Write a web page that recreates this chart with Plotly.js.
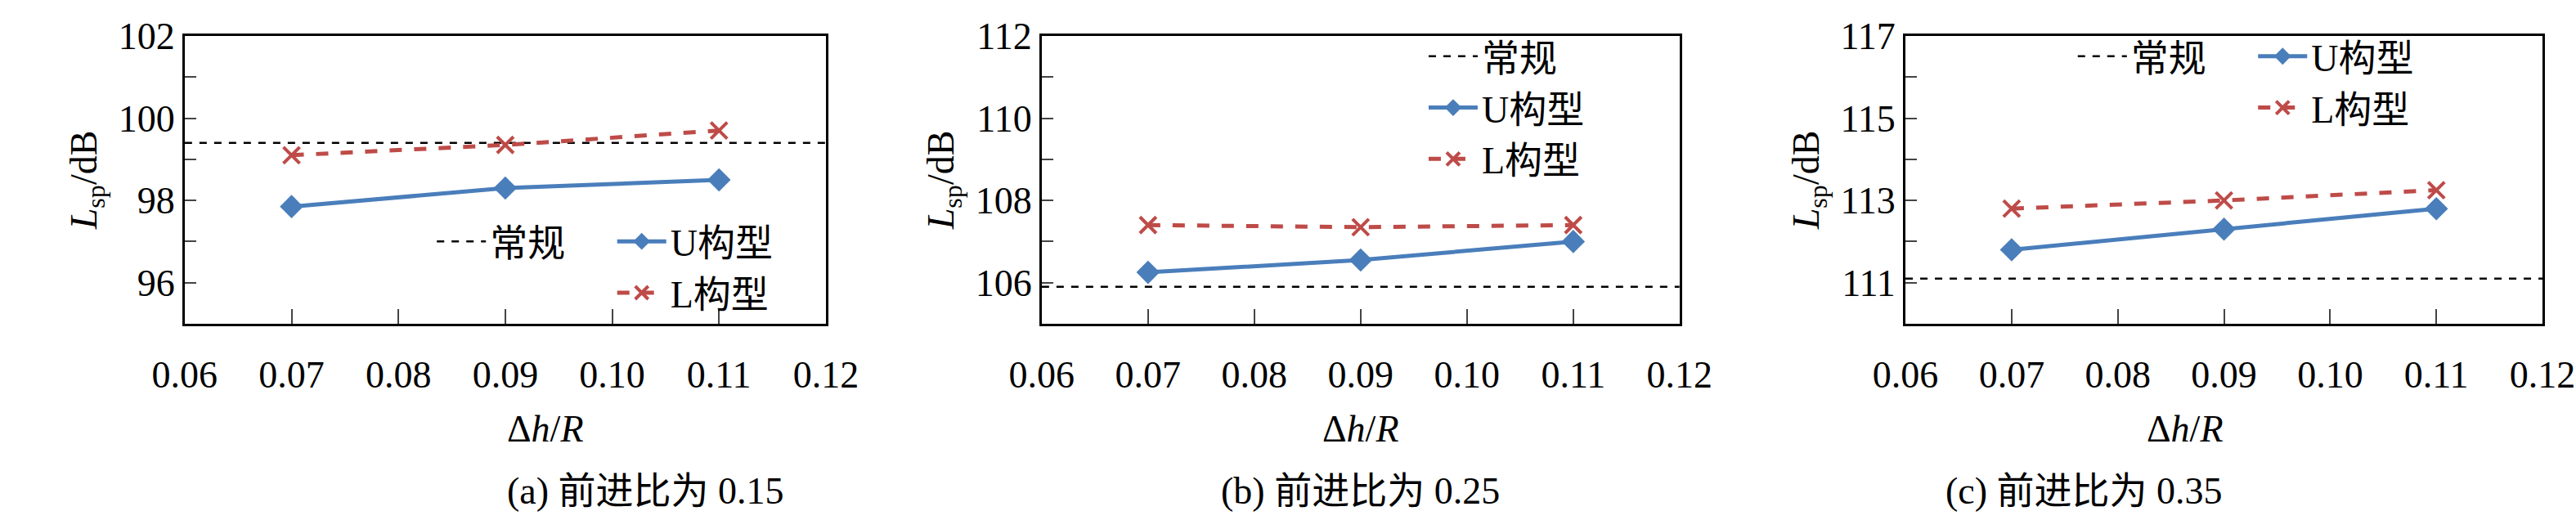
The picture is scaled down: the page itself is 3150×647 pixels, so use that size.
<!DOCTYPE html>
<html><head><meta charset="utf-8">
<script src="https://cdn.plot.ly/plotly-3.0.1.min.js"></script>
<style>body{margin:0}</style></head>
<body><div id="chart" style="width:3150px;height:647px"></div>
<script>
const xVals = [0.07, 0.09, 0.11];
const xTicks = [0.06, 0.07, 0.08, 0.09, 0.10, 0.11, 0.12];
const uA = [97.85, 98.3, 98.5];
const lA = [99.1, 99.35, 99.7];
const convA = 99.4;
const uB = [106.25, 106.55, 107.0];
const lB = [107.4, 107.35, 107.4];
const convB = 105.9;
const uC = [111.8, 112.3, 112.8];
const lC = [112.8, 113.0, 113.25];
const convC = 111.1;
const captions = ['(a) 前进比为 0.15', '(b) 前进比为 0.25', '(c) 前进比为 0.35'];

const blue = '#4a7ebb', red = '#be4b48';
const font = {family: '"Liberation Serif", "Noto Sans CJK SC", serif', size: 46, color: '#000'};

function traces(ax, u, l, conv, legConv, legUL) {
  const xa = 'x' + ax, ya = 'y' + ax;
  return [
    {x: [0.06, 0.12], y: [conv, conv], xaxis: xa, yaxis: ya, mode: 'lines', name: '常规',
     line: {color: '#000', width: 2.5, dash: 'dash'}, legend: legConv, showlegend: true},
    {x: xVals, y: u, xaxis: xa, yaxis: ya, mode: 'lines+markers', name: 'U构型',
     line: {color: blue, width: 5}, marker: {symbol: 'diamond', size: 22, color: blue}, legend: legUL},
    {x: xVals, y: l, xaxis: xa, yaxis: ya, mode: 'lines+markers', name: 'L构型',
     line: {color: red, width: 5, dash: 'dash'},
     marker: {symbol: 'x-thin-open', size: 20, color: red, line: {color: red, width: 4}}, legend: legUL}
  ];
}

const data = [
  ...traces('', uA, lA, convA, 'legend', 'legend2'),
  ...traces('2', uB, lB, convB, 'legend3', 'legend3'),
  ...traces('3', uC, lC, convC, 'legend4', 'legend5')
];

function xaxis(dom, anchor) {
  return {domain: dom, anchor: anchor, range: [0.06, 0.12], tickvals: xTicks,
    ticktext: xTicks.map(v => v.toFixed(2)), ticks: 'inside', ticklen: 18, tickwidth: 2,
    showline: true, mirror: true, linecolor: '#000', linewidth: 3, showgrid: false,
    zeroline: false, tickfont: font, ticklabelstandoff: 20};
}
function yaxis(anchor, range, tick0) {
  return {domain: [0.388, 0.932], anchor: anchor, range: range, tick0: tick0, dtick: 2,
    ticks: 'inside', ticklen: 14, tickwidth: 2,
    minor: {dtick: 1, ticks: 'inside', ticklen: 14, tickwidth: 2},
    showline: true, mirror: true, linecolor: '#000', linewidth: 3, showgrid: false,
    zeroline: false, tickfont: font,
    title: {text: '<i>L</i><sub>sp</sub>/dB', font: font, standoff: 12}};
}
const doms = [[0.0717, 0.3206], [0.4044, 0.652], [0.7397, 0.987]];
const leg = (x, y) => ({x: x, y: y, xanchor: 'left', yanchor: 'top', bgcolor: 'rgba(0,0,0,0)',
  font: font, itemwidth: 60, tracegroupgap: 0, visible: true});

const annotations = [];
doms.forEach((d, i) => {
  const cx = (d[0] + d[1]) / 2;
  annotations.push({xref: 'paper', yref: 'paper', x: cx, y: 1 - 524 / 647, text: 'Δ<i>h</i>/<i>R</i>',
    showarrow: false, font: font, yanchor: 'middle'});
  annotations.push({xref: 'paper', yref: 'paper', x: cx, y: 1 - 600 / 647, text: captions[i],
    showarrow: false, font: font, yanchor: 'middle'});
});

const layout = {
  width: 3150, height: 647, margin: {l: 0, r: 0, t: 0, b: 0}, showlegend: true,
  paper_bgcolor: '#fff', plot_bgcolor: '#fff', font: font,
  xaxis: xaxis(doms[0], 'y'), yaxis: yaxis('x', [95, 102], 96),
  xaxis2: xaxis(doms[1], 'y2'), yaxis2: yaxis('x2', [105, 112], 106),
  xaxis3: xaxis(doms[2], 'y3'), yaxis3: yaxis('x3', [110, 117], 111),
  legend: leg(0.168, 0.6),
  legend2: leg(0.238, 0.6),
  legend3: leg(0.553, 0.95),
  legend4: leg(0.805, 0.95),
  legend5: leg(0.875, 0.95),
  annotations: annotations
};

Plotly.newPlot('chart', data, layout, {staticPlot: true});
</script></body></html>
